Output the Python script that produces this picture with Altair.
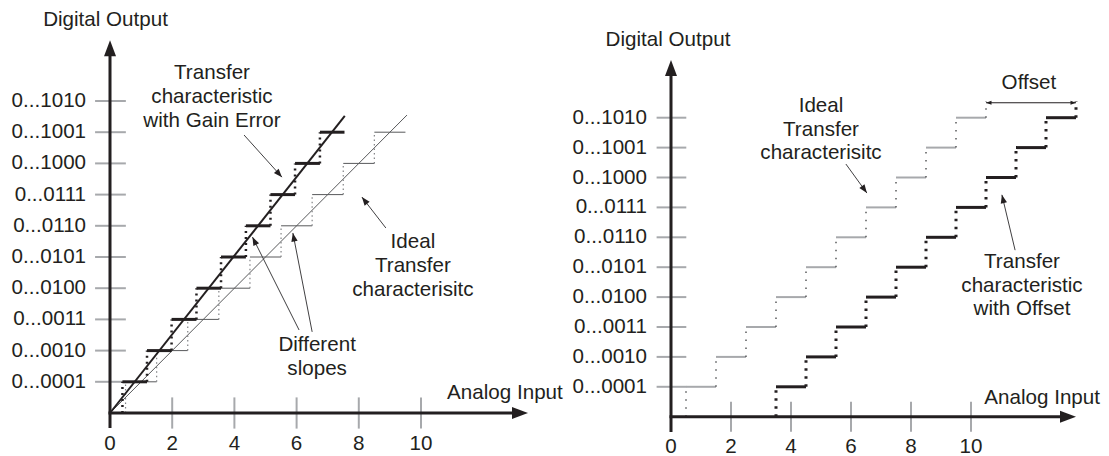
import math
import altair as alt
import pandas as pd

# ---------------- values ----------------
codes = [1, 2, 3, 4, 5, 6, 7, 8, 9, 10]
code_labels = ["0...0001", "0...0010", "0...0011", "0...0100", "0...0101",
               "0...0110", "0...0111", "0...1000", "0...1001", "0...1010"]
x_tick_values = [2, 4, 6, 8, 10]
x_label_values = [0, 2, 4, 6, 8, 10]
x_label_texts = ["0", "2", "4", "6", "8", "10"]

# left panel: gain error
left_ideal_codes = [1, 2, 3, 4, 5, 6, 7, 8, 9]
left_ideal_start = [0.5, 1.5, 2.5, 3.5, 4.5, 5.5, 6.5, 7.5, 8.5]
left_ideal_end = [1.5, 2.5, 3.5, 4.5, 5.5, 6.5, 7.5, 8.5, 9.5]
left_gain_codes = [1, 2, 3, 4, 5, 6, 7, 8, 9]
left_gain_start = [0.40, 1.19, 1.98, 2.78, 3.57, 4.37, 5.16, 5.95, 6.75]
left_gain_end = [1.19, 1.98, 2.78, 3.57, 4.37, 5.16, 5.95, 6.75, 7.54]
left_ideal_line = [0.0, 0.0, 9.55, 9.55]
left_gain_line = [0.0, 0.0, 7.55, 9.52]

# right panel: offset
right_ideal_codes = [1, 2, 3, 4, 5, 6, 7, 8, 9, 10]
right_ideal_start = [0.5, 1.5, 2.5, 3.5, 4.5, 5.5, 6.5, 7.5, 8.5, 9.5]
right_ideal_end = [1.5, 2.5, 3.5, 4.5, 5.5, 6.5, 7.5, 8.5, 9.5, 10.5]
right_offset_codes = [1, 2, 3, 4, 5, 6, 7, 8, 9, 10]
right_offset_start = [3.5, 4.5, 5.5, 6.5, 7.5, 8.5, 9.5, 10.5, 11.5, 12.5]
right_offset_end = [4.5, 5.5, 6.5, 7.5, 8.5, 9.5, 10.5, 11.5, 12.5, 13.5]
right_last_riser_top = 10.55
offset_span = [10.5, 13.5]
offset_span_level = 10.5

# ---------------- layout / style ----------------
FONT = "Liberation Sans, Arial, Helvetica, sans-serif"
INK = "#231f20"
TICK_GRAY = "#a7a9ac"
FS = 20.6
H = 440
AXIS_HEAD = "M0,0L0.75,2L-0.75,2Z"

LEFT = dict(W=550, ox=102, oy=405, sx=31.1, sy=31.2)
RIGHT = dict(W=543, ox=113, oy=408.7, sx=30.0, sy=29.9)


def scales(p):
    xs = alt.Scale(domain=[-p["ox"] / p["sx"], (p["W"] - p["ox"]) / p["sx"]],
                   nice=False, zero=False)
    ys = alt.Scale(domain=[-(H - p["oy"]) / p["sy"], p["oy"] / p["sy"]],
                   nice=False, zero=False)
    return xs, ys


def rules(df, xs, ys, **mark):
    return alt.Chart(df).mark_rule(**mark).encode(
        x=alt.X("x:Q", scale=xs, axis=None), x2="x2:Q",
        y=alt.Y("y:Q", scale=ys, axis=None), y2="y2:Q")


def texts(df, xs, ys, **mark):
    base = dict(font=FONT, fontSize=FS, color=INK)
    base.update(mark)
    return alt.Chart(df).mark_text(**base).encode(
        x=alt.X("x:Q", scale=xs, axis=None),
        y=alt.Y("y:Q", scale=ys, axis=None), text="t:N")


def heads(df, xs, ys, size):
    return alt.Chart(df).mark_point(shape=AXIS_HEAD, filled=True, opacity=1,
                                    size=size, color=INK, strokeWidth=0).encode(
        x=alt.X("x:Q", scale=xs, axis=None),
        y=alt.Y("y:Q", scale=ys, axis=None),
        angle=alt.Angle("a:Q", scale=None))


def ang(p, x1, y1, x2, y2):
    return math.degrees(math.atan2((x2 - x1) * p["sx"], (y2 - y1) * p["sy"])) % 360


def arrows(p, xs, ys, segs, size, width=1, color=INK, both=False):
    line_df = pd.DataFrame([dict(x=a, y=b, x2=c, y2=d) for a, b, c, d in segs])
    hd = [dict(x=c, y=d, a=ang(p, a, b, c, d)) for a, b, c, d in segs]
    if both:
        hd += [dict(x=a, y=b, a=ang(p, c, d, a, b)) for a, b, c, d in segs]
    return [rules(line_df, xs, ys, color=color, strokeWidth=width),
            heads(pd.DataFrame(hd), xs, ys, size)]


def frame(p, xs, ys, ylab_x, xlab_y):
    layers = []
    layers.append(rules(pd.DataFrame(dict(x=[-0.48] * 10, x2=[0.51] * 10, y=codes, y2=codes)),
                        xs, ys, color=TICK_GRAY, strokeWidth=2))
    layers.append(rules(pd.DataFrame(dict(x=x_tick_values, x2=x_tick_values,
                                          y=[-0.5] * 5, y2=[0.5] * 5)),
                        xs, ys, color=TICK_GRAY, strokeWidth=2))
    layers.append(texts(pd.DataFrame(dict(x=[ylab_x] * 10, y=codes, t=code_labels)),
                        xs, ys, align="right", baseline="middle"))
    layers.append(texts(pd.DataFrame(dict(x=x_label_values, y=[xlab_y] * 6, t=x_label_texts)),
                        xs, ys, align="center", baseline="middle"))
    return layers


def axes(p, xs, ys, ytop, xright, ybottom):
    ax = pd.DataFrame(dict(x=[0, -0.05], x2=[0, xright - 0.3],
                           y=[ybottom, 0], y2=[ytop - 0.3, 0]))
    return [rules(ax, xs, ys, color=INK, strokeWidth=3),
            heads(pd.DataFrame(dict(x=[0, xright], y=[ytop, 0], a=[0, 90])), xs, ys, 256)]


# ---------------- left panel ----------------
lxs, lys = scales(LEFT)
L = []
L += frame(LEFT, lxs, lys, -0.77, -0.99)
L.append(rules(pd.DataFrame(dict(x=[left_ideal_line[0]], y=[left_ideal_line[1]],
                                 x2=[left_ideal_line[2]], y2=[left_ideal_line[3]])),
               lxs, lys, color="#58595b", strokeWidth=1))
L.append(rules(pd.DataFrame(dict(x=left_ideal_start, x2=left_ideal_end,
                                 y=left_ideal_codes, y2=left_ideal_codes)),
               lxs, lys, color="#58595b", strokeWidth=1))
L.append(rules(pd.DataFrame(dict(x=left_ideal_start, x2=left_ideal_start,
                                 y=[c - 1 for c in left_ideal_codes], y2=left_ideal_codes)),
               lxs, lys, color="#808285", strokeWidth=1.2, strokeDash=[1.5, 3]))
L.append(rules(pd.DataFrame(dict(x=[left_gain_line[0]], y=[left_gain_line[1]],
                                 x2=[left_gain_line[2]], y2=[left_gain_line[3]])),
               lxs, lys, color=INK, strokeWidth=2))
L.append(rules(pd.DataFrame(dict(x=left_gain_start, x2=left_gain_end,
                                 y=left_gain_codes, y2=left_gain_codes)),
               lxs, lys, color=INK, strokeWidth=3))
L.append(rules(pd.DataFrame(dict(x=left_gain_start, x2=left_gain_start,
                                 y=[c - 1 for c in left_gain_codes], y2=left_gain_codes)),
               lxs, lys, color=INK, strokeWidth=2.5, strokeDash=[2, 4]))
L += axes(LEFT, lxs, lys, 11.95, 13.44, -0.48)
L.append(texts(pd.DataFrame(dict(x=[-2.15, 10.84], y=[12.6, 0.64],
                                 t=["Digital Output", "Analog Input"])),
               lxs, lys, align="left", baseline="middle"))
L.append(texts(pd.DataFrame(dict(
    x=[3.28, 9.74, 6.66], y=[10.9, 5.48, 2.18],
    t=["Transfer\ncharacteristic\nwith Gain Error",
       "Ideal\nTransfer\ncharacterisitc",
       "Different\nslopes"])),
    lxs, lys, align="center", baseline="middle", lineBreak="\n", lineHeight=24))
L += arrows(LEFT, lxs, lys, [(4.31, 8.91, 5.53, 7.56), (8.87, 5.93, 8.10, 6.92),
                             (6.08, 2.66, 4.58, 5.64), (6.50, 2.60, 5.88, 5.77)],
            size=72, width=1, color="#414042")
left = alt.layer(*L).properties(width=LEFT["W"], height=H)

# ---------------- right panel ----------------
rxs, rys = scales(RIGHT)
R = []
R += frame(RIGHT, rxs, rys, -0.8, -1.01)
R.append(rules(pd.DataFrame(dict(x=right_ideal_start, x2=right_ideal_end,
                                 y=right_ideal_codes, y2=right_ideal_codes)),
               rxs, rys, color=TICK_GRAY, strokeWidth=2))
R.append(rules(pd.DataFrame(dict(
    x=right_ideal_start + [right_ideal_end[-1]], x2=right_ideal_start + [right_ideal_end[-1]],
    y=[c - 1 for c in right_ideal_codes] + [right_ideal_codes[-1]],
    y2=right_ideal_codes + [right_last_riser_top])),
    rxs, rys, color="#58595b", strokeWidth=1.5, strokeDash=[1.5, 6.5]))
R.append(rules(pd.DataFrame(dict(x=right_offset_start, x2=right_offset_end,
                                 y=right_offset_codes, y2=right_offset_codes)),
               rxs, rys, color=INK, strokeWidth=3))
R.append(rules(pd.DataFrame(dict(
    x=right_offset_start + [right_offset_end[-1]], x2=right_offset_start + [right_offset_end[-1]],
    y=[c - 1 for c in right_offset_codes] + [right_offset_codes[-1]],
    y2=right_offset_codes + [right_last_riser_top])),
    rxs, rys, color=INK, strokeWidth=3, strokeDash=[2.5, 5.5]))
R += axes(RIGHT, rxs, rys, 11.93, 13.5, -0.51)
R.append(texts(pd.DataFrame(dict(x=[-2.18], y=[12.6], t=["Digital Output"])),
               rxs, rys, align="left", baseline="middle"))
R.append(texts(pd.DataFrame(dict(x=[14.3], y=[0.625], t=["Analog Input"])),
               rxs, rys, align="right", baseline="middle"))
R.append(texts(pd.DataFrame(dict(
    x=[11.93, 5.0, 11.7], y=[11.16, 10.39, 5.17],
    t=["Offset", "Ideal\nTransfer\ncharacterisitc",
       "Transfer\ncharacteristic\nwith Offset"])),
    rxs, rys, align="center", baseline="middle", lineBreak="\n", lineHeight=23.5))
R += arrows(RIGHT, rxs, rys, [(5.83, 8.45, 6.53, 7.48), (11.47, 5.57, 11.03, 7.42)],
            size=72, width=1, color="#414042")
R += arrows(RIGHT, rxs, rys, [(offset_span[0], offset_span_level,
                               offset_span[1], offset_span_level)],
            size=30, width=1, color=INK, both=True)
right = alt.layer(*R).properties(width=RIGHT["W"], height=H)

chart = alt.hconcat(left, right, spacing=0, bounds="flush").properties(
    padding=0, background="white"
).configure_view(stroke=None)

chart.save("out.html", embed_options={"renderer": "svg", "actions": False})
